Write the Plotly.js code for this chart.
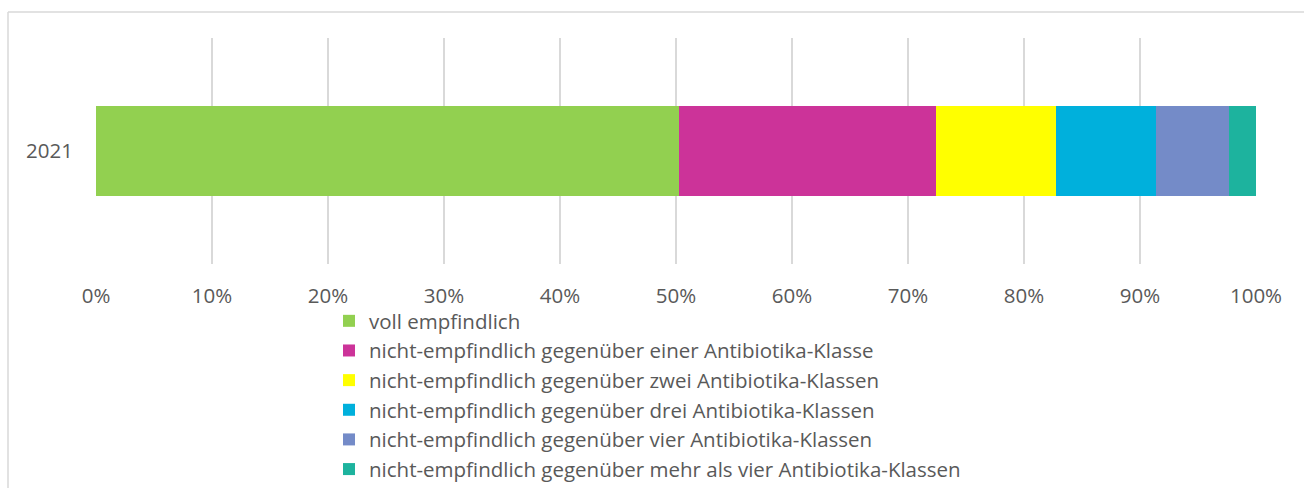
<!DOCTYPE html>
<html>
<head>
<meta charset="utf-8">
<script src="https://cdn.plot.ly/plotly-3.0.1.min.js"></script>
<style>html,body{margin:0;padding:0;background:#fff;}#chart{width:1304px;height:488px;}</style>
</head>
<body>
<div id="chart"></div>
<script>
const categories = ["2021"];
const seriesNames = [
  "voll empfindlich",
  "nicht-empfindlich gegenüber einer Antibiotika-Klasse",
  "nicht-empfindlich gegenüber zwei Antibiotika-Klassen",
  "nicht-empfindlich gegenüber drei Antibiotika-Klassen",
  "nicht-empfindlich gegenüber vier Antibiotika-Klassen",
  "nicht-empfindlich gegenüber mehr als vier Antibiotika-Klassen"
];
const seriesValues = [50.3, 22.1, 10.4, 8.6, 6.3, 2.3];
const seriesColors = ["#92d050", "#cc3399", "#ffff00", "#00b0dc", "#748bc8", "#1db39e"];
const xTickVals = [0,10,20,30,40,50,60,70,80,90,100];
const xTickText = ["0%","10%","20%","30%","40%","50%","60%","70%","80%","90%","100%"];

const W = 1304, H = 488;
const L = 96, R = 48, T = 38, B = 224;
const pw = W - L - R, ph = H - T - B;
const px = x => (x - L) / pw;
const py = y => (H - B - y) / ph;

const traces = seriesNames.map((n, i) => ({
  type: 'bar',
  orientation: 'h',
  name: n,
  y: categories,
  x: [seriesValues[i]],
  marker: {color: seriesColors[i], line: {width: 0}},
  hoverinfo: 'name+x'
}));

const layout = {
  width: W, height: H,
  margin: {l: L, r: R, t: T, b: B, pad: 0, autoexpand: false},
  paper_bgcolor: '#ffffff',
  plot_bgcolor: '#ffffff',
  barmode: 'stack',
  bargap: 0.6,
  font: {family: 'Open Sans, Liberation Sans, sans-serif', color: '#595959', size: 20},
  xaxis: {
    range: [0, 100],
    tickvals: xTickVals,
    ticktext: xTickText,
    showgrid: true,
    gridcolor: '#d9d9d9',
    gridwidth: 2,
    zeroline: false,
    showline: false,
    ticks: '',
    ticklabelstandoff: 17,
    tickfont: {size: 20.5, color: '#595959'},
    automargin: false,
    fixedrange: true
  },
  yaxis: {
    showgrid: false,
    zeroline: false,
    showline: false,
    ticks: '',
    ticklabelstandoff: 22,
    tickfont: {size: 20.5, color: '#595959'},
    automargin: false,
    fixedrange: true
  },
  showlegend: true,
  legend: {
    orientation: 'v',
    traceorder: 'normal',
    x: px(329),
    xanchor: 'left',
    y: py(301),
    yanchor: 'top',
    font: {size: 20.5, color: '#595959'},
    bgcolor: 'rgba(0,0,0,0)',
    itemclick: false,
    itemdoubleclick: false
  },
  shapes: [
    {type: 'line', xref: 'paper', yref: 'paper', x0: px(8), x1: px(1310), y0: py(12), y1: py(12), line: {color: '#d9d9d9', width: 1.5}},
    {type: 'line', xref: 'paper', yref: 'paper', x0: px(8), x1: px(8), y0: py(12), y1: py(495), line: {color: '#d9d9d9', width: 1.5}}
  ]
};

Plotly.newPlot('chart', traces, layout, {displayModeBar: false});
</script>
</body>
</html>
